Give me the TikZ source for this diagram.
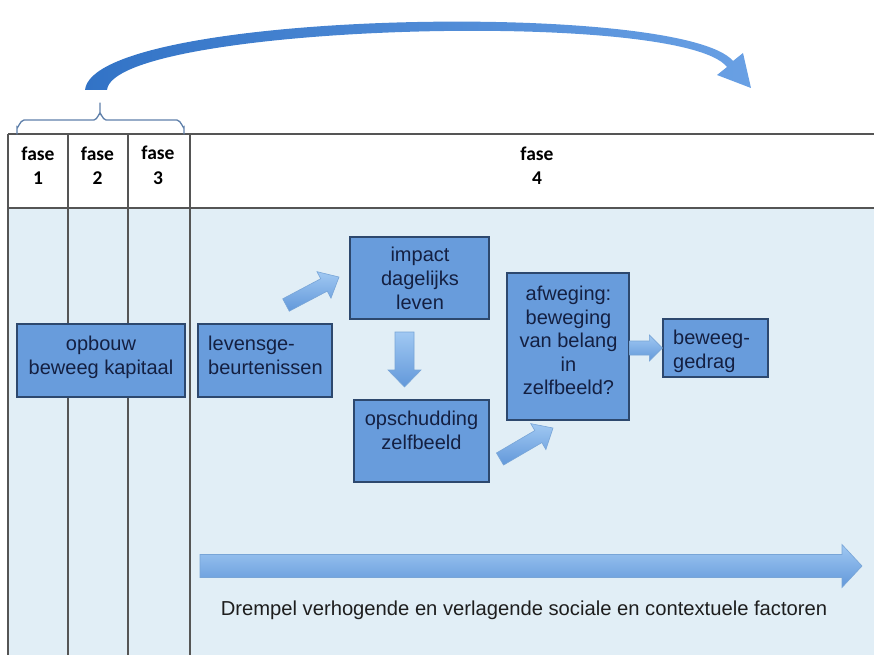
\documentclass[tikz,border=0pt]{standalone}
\usepackage{fontspec}
\setmainfont{Liberation Sans}
\newfontfamily\headfont{Carlito}
\usetikzlibrary{calc}

\definecolor{paleblue}{RGB}{225,238,246}
\definecolor{boxblue}{RGB}{104,156,220}
\definecolor{boxedge}{RGB}{45,72,110}
\definecolor{boxtext}{RGB}{20,32,66}
\definecolor{gridgray}{RGB}{85,85,85}
\definecolor{bracecol}{RGB}{95,128,170}
\definecolor{arrowtop}{RGB}{160,200,242}
\definecolor{arrowbot}{RGB}{98,152,218}
\definecolor{arrowedge}{RGB}{120,165,215}
\definecolor{curvedark}{RGB}{50,115,198}
\definecolor{curvelight}{RGB}{105,160,228}

% block arrow from tail coordinate #2 to tip coordinate #3:
% #4 half shaft width, #5 half head width, #6 head length
\newcommand\blockarrow[6][]{%
  \coordinate (#2-neck) at ($(#3)!#6!(#2)$);
  \path[#1] ($(#2)!#4!90:(#3)$)
    -- ($(#2-neck)!#4!90:(#3)$)
    -- ($(#2-neck)!#5!90:(#3)$)
    -- (#3)
    -- ($(#2-neck)!#5!-90:(#3)$)
    -- ($(#2-neck)!#4!-90:(#3)$)
    -- ($(#2)!#4!-90:(#3)$) -- cycle;}

\begin{document}
\begin{tikzpicture}[x=1pt,y=-1pt,
  grid/.style={draw=gridgray,line width=1.4pt},
  box/.style={draw=boxedge,fill=boxblue,line width=1.2pt,inner sep=0pt},
  txt/.style={text=boxtext,font=\fontsize{20}{24}\selectfont,inner sep=0pt},
  head/.style={font=\headfont\bfseries\fontsize{19.5}{24.5}\selectfont,align=center,inner sep=0pt},
  blockfill/.style={top color=arrowtop,bottom color=arrowbot,draw=arrowedge,line width=0.6pt},
  brace/.style={draw=bracecol,line width=1.3pt,line cap=round}]

\useasboundingbox (0,0) rectangle (874,655);

% table: header row and pale body
\fill[white] (8,134) rectangle (874,208);
\fill[paleblue] (8,208) rectangle (874,655);
\draw[grid] (8,134) -- (874,134);
\draw[grid] (8,208) -- (874,208);
\foreach \x in {8,68,128,190}
  \draw[grid] (\x,134) -- (\x,655);

\node[head] (f1) at (38,165.5) {fase\\1};
\node[head] (f2) at (97.5,165.5) {fase\\2};
\node[head] (f3) at (158,165.5) {fase\\3};
\node[head] (f4) at (537,165.5) {fase\\4};

% brace over the first three phases
\draw[brace] (17,134) -- (17,127) to[out=-90,in=180] (24,120) -- (94,120)
  to[out=0,in=90] (100,114) -- (100,103);
\draw[brace] (184,134) -- (184,127) to[out=-90,in=0] (177,120) -- (106,120)
  to[out=180,in=90] (100,114);

% curved arrow from the brace to the right
\shade[left color=curvedark,right color=curvelight]
  (85,90) .. controls (93,10) and (682,0) .. (733,61)
  -- (743,53) -- (751,88) -- (717,75) -- (727,67)
  .. controls (681,8) and (113,25) .. (107,90) -- cycle;

% boxes
\node[box,minimum width=168pt,minimum height=73pt] (opb) at (101,360.5) {};
\node[txt,align=center] (opbt) at (101,357) {opbouw\\beweeg kapitaal};

\node[box,minimum width=134pt,minimum height=73pt] (lev) at (265,360.5) {};
\node[txt,align=left,anchor=west] (levt) at (208,355) {levensge-\\beurtenissen};

\node[box,minimum width=139pt,minimum height=82pt] (imp) at (419.5,278) {};
\node[txt,align=center] (impt) at (420,278.5) {impact\\dagelijks\\leven};

\node[box,minimum width=135pt,minimum height=82pt] (ops) at (421.5,441) {};
\node[txt,align=center] (opst) at (421.5,430) {opschudding\\zelfbeeld};

\node[box,minimum width=122pt,minimum height=147pt] (afw) at (568,346.5) {};
\node[txt,align=center,font=\fontsize{20}{23.5}\selectfont] (afwt) at (568.5,340.5)
  {afweging:\\beweging\\van belang\\in\\zelfbeeld?};

\node[box,minimum width=105pt,minimum height=58pt] (bew) at (715.5,348) {};
\node[txt,align=left,anchor=west] (bewt) at (673,351.5) {beweeg-\\gedrag};

% block arrows between the boxes
\coordinate (a1s) at (286,305);
\coordinate (a1e) at (339,277);
\blockarrow[blockfill]{a1s}{a1e}{7pt}{15pt}{17pt}

\coordinate (a2s) at (404.5,332);
\coordinate (a2e) at (404.5,387);
\blockarrow[blockfill]{a2s}{a2e}{9.5pt}{16.5pt}{17pt}

\coordinate (a3s) at (500,459);
\coordinate (a3e) at (553,428);
\blockarrow[blockfill]{a3s}{a3e}{7pt}{15pt}{17pt}

\coordinate (a4s) at (afw.east |- bew.west);
\coordinate (a4e) at (bew.west);
\blockarrow[blockfill]{a4s}{a4e}{7pt}{13pt}{13pt}

% long arrow for the social and contextual factors
\coordinate (a5s) at (200,566);
\coordinate (a5e) at (862,566);
\blockarrow[blockfill]{a5s}{a5e}{11.5pt}{21.5pt}{20pt}

\node[txt,text={rgb,255:red,30;green,30;blue,30},font=\fontsize{20.2}{24}\selectfont] (fac) at (524,610)
  {Drempel verhogende en verlagende sociale en contextuele factoren};

\end{tikzpicture}
\end{document}
